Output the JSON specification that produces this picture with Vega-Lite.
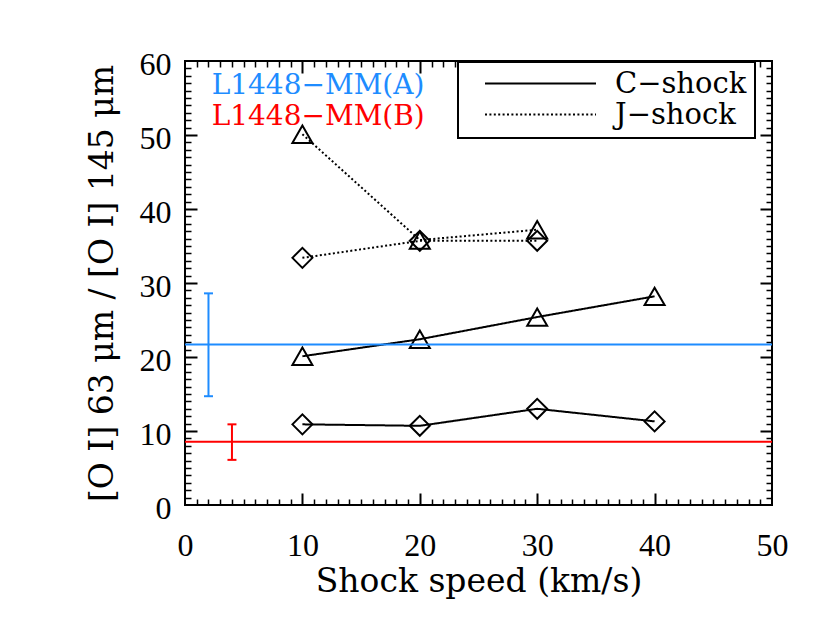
{
  "$schema": "https://vega.github.io/schema/vega-lite/v6.json",
  "width": 587,
  "height": 444,
  "autosize": "none",
  "padding": {"left": 185, "top": 61, "right": 58, "bottom": 119},
  "background": "white",
  "datasets": {
    "series": [
      {"shock": "C−shock", "marker": "tri", "speed": 10, "ratio": 20.1},
      {"shock": "C−shock", "marker": "tri", "speed": 20, "ratio": 22.4},
      {"shock": "C−shock", "marker": "tri", "speed": 30, "ratio": 25.4},
      {"shock": "C−shock", "marker": "tri", "speed": 40, "ratio": 28.2},
      {"shock": "C−shock", "marker": "dia", "speed": 10, "ratio": 10.9},
      {"shock": "C−shock", "marker": "dia", "speed": 20, "ratio": 10.7},
      {"shock": "C−shock", "marker": "dia", "speed": 30, "ratio": 13.0},
      {"shock": "C−shock", "marker": "dia", "speed": 40, "ratio": 11.3},
      {"shock": "J−shock", "marker": "tri", "speed": 10, "ratio": 50.1},
      {"shock": "J−shock", "marker": "tri", "speed": 20, "ratio": 35.8},
      {"shock": "J−shock", "marker": "tri", "speed": 30, "ratio": 37.2},
      {"shock": "J−shock", "marker": "dia", "speed": 10, "ratio": 33.4},
      {"shock": "J−shock", "marker": "dia", "speed": 20, "ratio": 35.7},
      {"shock": "J−shock", "marker": "dia", "speed": 30, "ratio": 35.7}
    ],
    "obs": [
      {"src": "A", "val": 21.7, "lo": 14.7, "hi": 28.6, "xpos": 2},
      {"src": "B", "val": 8.55, "lo": 6.1, "hi": 10.9, "xpos": 4}
    ]
  },
  "layer": [
    {
      "data": {"name": "series"},
      "mark": {"type": "line", "color": "black", "strokeWidth": 2},
      "encoding": {
        "x": {"field": "speed", "type": "quantitative", "scale": {"domain": [0, 50], "nice": false, "zero": false},
          "axis": {"orient": "bottom", "ticks": false, "tickSize": 0, "domain": false, "grid": false,
            "values": [0, 10, 20, 30, 40, 50], "labelFont": "Liberation Serif", "labelFontSize": 32,
            "labelColor": "black", "labelPadding": 25, "labelFlush": false, "labelOverlap": false,
            "title": "Shock speed (km/s)", "titleFont": "DejaVu Serif", "titleFontSize": 33,
            "titleFontWeight": "normal", "titleColor": "black", "titleBaseline": "alphabetic", "titleY": 86}},
        "y": {"field": "ratio", "type": "quantitative", "scale": {"domain": [0, 60], "nice": false, "zero": false},
          "axis": {"orient": "left", "ticks": false, "tickSize": 0, "domain": false, "grid": false,
            "values": [0, 10, 20, 30, 40, 50, 60], "labelFont": "Liberation Serif", "labelFontSize": 32,
            "labelColor": "black", "labelPadding": 14, "labelOffset": 3, "labelFlush": false, "labelOverlap": false,
            "title": "[O I] 63 μm / [O I] 145 μm", "titleFont": "DejaVu Serif", "titleFontSize": 33,
            "titleFontWeight": "normal", "titleColor": "black", "titleBaseline": "alphabetic",
            "titleX": -73, "titleY": 222, "titleAngle": 270, "titleAlign": "center"}},
        "detail": {"field": "marker", "type": "nominal"},
        "strokeDash": {"field": "shock", "type": "nominal",
          "scale": {"domain": ["C−shock", "J−shock"], "range": [[1, 0], [2, 2.4]]},
          "legend": {"title": null, "orient": "none", "legendX": 273, "legendY": 1,
            "symbolType": "stroke", "symbolSize": 12321, "symbolStrokeWidth": 2, "symbolStrokeColor": "black",
            "clipHeight": 27, "rowPadding": 1, "padding": 8, "symbolOffset": 18, "labelOffset": 18,
            "labelAlign": "left", "labelBaseline": "middle",
            "labelFont": "DejaVu Serif", "labelFontSize": 29, "labelColor": "black", "labelLimit": 300,
            "strokeColor": "black", "fillColor": "white"}}
      }
    },
    {
      "data": {"name": "series"},
      "mark": {"type": "point", "filled": false, "stroke": "black", "strokeWidth": 2, "size": 400, "opacity": 1},
      "encoding": {
        "x": {"field": "speed", "type": "quantitative",
          "axis": {"orient": "bottom", "labels": false, "domain": false, "grid": false, "title": null,
            "values": [1,2,3,4,5,6,7,8,9,11,12,13,14,15,16,17,18,19,21,22,23,24,25,26,27,28,29,31,32,33,34,35,36,37,38,39,41,42,43,44,45,46,47,48,49],
            "tickSize": -6, "tickWidth": 1.5, "tickColor": "black"}},
        "y": {"field": "ratio", "type": "quantitative",
          "axis": {"orient": "left", "labels": false, "domain": false, "grid": false, "title": null,
            "values": [1,2,3,4,5,6,7,8,9,11,12,13,14,15,16,17,18,19,21,22,23,24,25,26,27,28,29,31,32,33,34,35,36,37,38,39,41,42,43,44,45,46,47,48,49,51,52,53,54,55,56,57,58,59],
            "tickSize": -6, "tickWidth": 1.5, "tickColor": "black"}},
        "shape": {"field": "marker", "type": "nominal",
          "scale": {"domain": ["tri", "dia"], "range": ["triangle-up", "diamond"]}, "legend": null}
      }
    },
    {
      "data": {"name": "obs"},
      "mark": {"type": "rule", "strokeWidth": 2},
      "encoding": {
        "x": {"field": "xpos", "type": "quantitative",
          "axis": {"orient": "bottom", "labels": false, "domain": false, "grid": false, "title": null,
            "values": [10, 20, 30, 40], "tickSize": -12, "tickWidth": 2, "tickColor": "black"}},
        "y": {"field": "lo", "type": "quantitative",
          "axis": {"orient": "left", "labels": false, "domain": false, "grid": false, "title": null,
            "values": [10, 20, 30, 40, 50], "tickSize": -12, "tickWidth": 2, "tickColor": "black"}},
        "y2": {"field": "hi"},
        "color": {"field": "src", "type": "nominal", "scale": {"domain": ["A", "B"], "range": ["#1E8CFF", "#FF0000"]}, "legend": null}
      }
    },
    {
      "data": {"name": "obs"},
      "mark": {"type": "tick", "orient": "horizontal", "size": 9, "thickness": 2, "opacity": 1},
      "encoding": {
        "x": {"field": "xpos", "type": "quantitative",
          "axis": {"orient": "top", "labels": false, "domain": false, "grid": false, "title": null,
            "values": [10, 20, 30, 40], "tickSize": -12, "tickWidth": 2, "tickColor": "black"}},
        "y": {"field": "lo", "type": "quantitative",
          "axis": {"orient": "right", "labels": false, "domain": false, "grid": false, "title": null,
            "values": [10, 20, 30, 40, 50], "tickSize": -12, "tickWidth": 2, "tickColor": "black"}},
        "color": {"field": "src", "type": "nominal", "legend": null}
      }
    },
    {
      "data": {"name": "obs"},
      "mark": {"type": "tick", "orient": "horizontal", "size": 9, "thickness": 2, "opacity": 1},
      "encoding": {
        "x": {"field": "xpos", "type": "quantitative",
          "axis": {"orient": "top", "labels": false, "domain": false, "grid": false, "title": null,
            "values": [1,2,3,4,5,6,7,8,9,11,12,13,14,15,16,17,18,19,21,22,23,24,25,26,27,28,29,31,32,33,34,35,36,37,38,39,41,42,43,44,45,46,47,48,49],
            "tickSize": -6, "tickWidth": 1.5, "tickColor": "black"}},
        "y": {"field": "hi", "type": "quantitative",
          "axis": {"orient": "right", "labels": false, "domain": false, "grid": false, "title": null,
            "values": [1,2,3,4,5,6,7,8,9,11,12,13,14,15,16,17,18,19,21,22,23,24,25,26,27,28,29,31,32,33,34,35,36,37,38,39,41,42,43,44,45,46,47,48,49,51,52,53,54,55,56,57,58,59],
            "tickSize": -6, "tickWidth": 1.5, "tickColor": "black"}},
        "color": {"field": "src", "type": "nominal", "legend": null}
      }
    },
    {
      "data": {"name": "obs"},
      "mark": {"type": "rule", "strokeWidth": 2},
      "encoding": {
        "y": {"field": "val", "type": "quantitative", "axis": null},
        "color": {"field": "src", "type": "nominal", "legend": null}
      }
    },
    {
      "data": {"values": [{"label": "L1448−MM(A)"}]},
      "mark": {"type": "text", "color": "#1E8CFF", "align": "left", "baseline": "middle",
        "font": "DejaVu Serif", "fontSize": 28},
      "encoding": {
        "text": {"field": "label"},
        "x": {"datum": 2.27, "type": "quantitative", "axis": null},
        "y": {"datum": 56.6, "type": "quantitative", "axis": null}
      }
    },
    {
      "data": {"values": [{"label": "L1448−MM(B)"}]},
      "mark": {"type": "text", "color": "#FF0000", "align": "left", "baseline": "middle",
        "font": "DejaVu Serif", "fontSize": 28},
      "encoding": {
        "text": {"field": "label"},
        "x": {"datum": 2.27, "type": "quantitative", "axis": null},
        "y": {"datum": 52.5, "type": "quantitative", "axis": null}
      }
    }
  ],
  "resolve": {"axis": {"x": "independent", "y": "independent"}},
  "config": {
    "view": {"stroke": "black", "strokeWidth": 2},
    "axis": {"grid": false},
    "legend": {"strokeWidth": 2}
  }
}
